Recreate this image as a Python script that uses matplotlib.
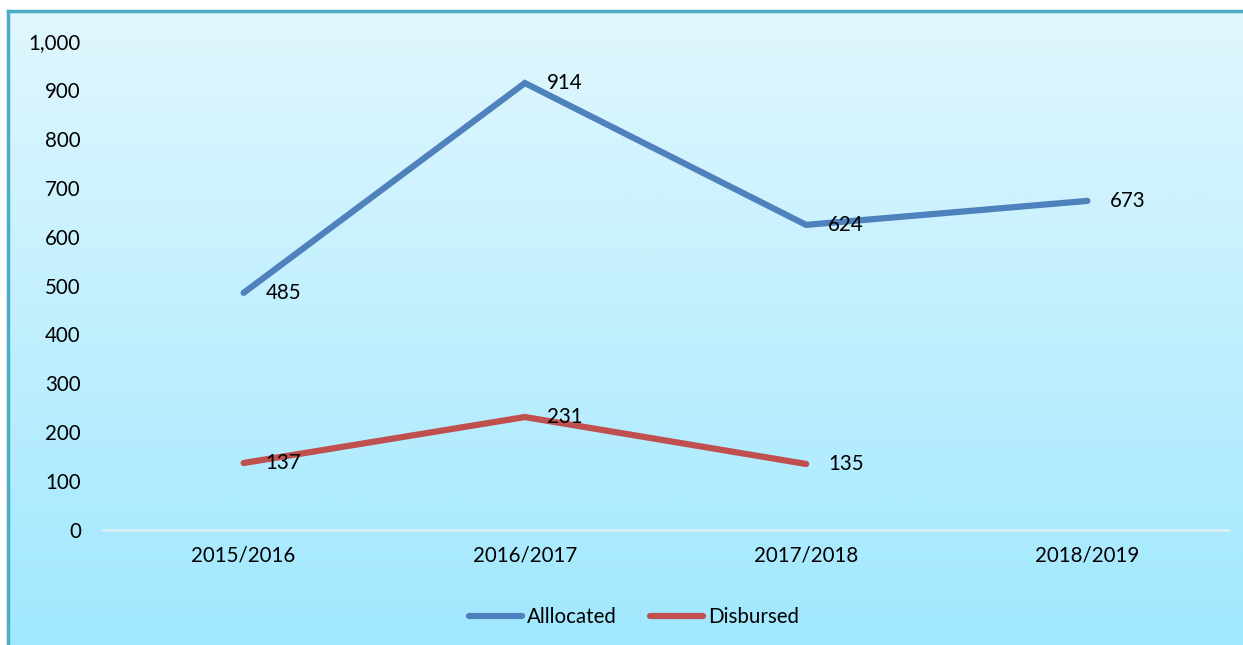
import matplotlib.pyplot as plt
import numpy as np
from matplotlib.colors import LinearSegmentedColormap

# Data
years = ['2015/2016', '2016/2017', '2017/2018', '2018/2019']
allocated = [485, 914, 624, 673]
disbursed = [137, 231, 135]

plt.rcParams['font.family'] = ['Lato', 'DejaVu Sans']
fs = 14.8

fig = plt.figure(figsize=(12.43, 6.45), dpi=100)

# Background panel with vertical gradient and teal border
bg = fig.add_axes([8 / 1243, 0, 1 - 8 / 1243, 1 - 11 / 645], zorder=0)
cmap = LinearSegmentedColormap.from_list('bg', ['#A0E8FE', '#E1F7FE'])
grad = np.linspace(0, 1, 256).reshape(-1, 1)
bg.imshow(grad, aspect='auto', cmap=cmap, origin='lower', extent=[0, 1, 0, 1])
bg.set_xlim(0, 1)
bg.set_ylim(0, 1)
bg.set_xticks([])
bg.set_yticks([])
for side in ['right', 'bottom']:
    bg.spines[side].set_visible(False)
for side in ['left', 'top']:
    bg.spines[side].set_color('#4BACC6')
    bg.spines[side].set_linewidth(2.5)

# Main plot
ax = fig.add_axes([103 / 1243, 1 - 530 / 645, (1228 - 103) / 1243, (530 - 41) / 645], zorder=1)
ax.patch.set_alpha(0)
x = np.arange(len(years))
ax.plot(x, allocated, color='#4F81BD', linewidth=4.5, solid_capstyle='round',
        solid_joinstyle='miter', label='Alllocated')
ax.plot(x[:len(disbursed)], disbursed, color='#C0504D', linewidth=4.5,
        solid_capstyle='round', solid_joinstyle='miter', label='Disbursed')

for xi, v in zip(x, allocated):
    ax.annotate(str(v), (xi, v), xytext=(16, 0), textcoords='offset points',
                ha='left', va='center', fontsize=fs)
for xi, v in zip(x, disbursed):
    ax.annotate(str(v), (xi, v), xytext=(16, 0), textcoords='offset points',
                ha='left', va='center', fontsize=fs)

ax.set_xlim(-0.5, len(years) - 0.5)
ax.set_ylim(0, 1000)
ax.set_yticks(range(0, 1001, 100))
ax.set_yticklabels([f'{t:,}' for t in range(0, 1001, 100)], fontsize=fs)
ax.set_xticks(x)
ax.set_xticklabels(years, fontsize=fs)
ax.tick_params(length=0, pad=16)
ax.tick_params(axis='x', pad=11)
for side in ['left', 'right', 'top']:
    ax.spines[side].set_visible(False)
ax.spines['bottom'].set_color('#D8F0F8')
ax.spines['bottom'].set_linewidth(2)

ax.legend(loc='upper center', bbox_to_anchor=(0.472, -0.12), ncol=2, frameon=False,
          fontsize=fs, handlelength=2.6, handletextpad=0.25, columnspacing=1.6)

plt.savefig('out.png', dpi=100)
